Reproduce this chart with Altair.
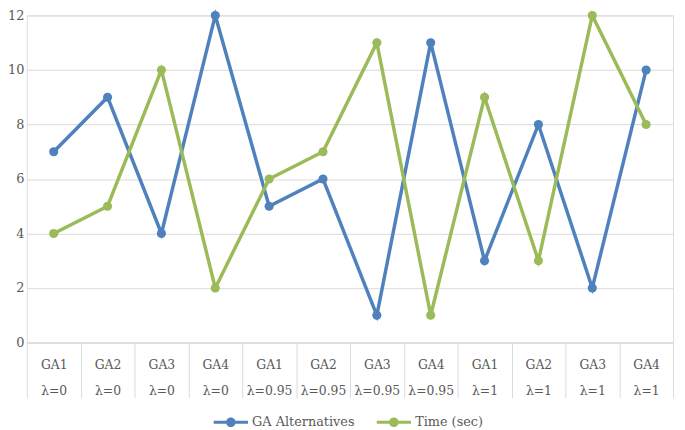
import altair as alt
import pandas as pd

groups = ["GA1", "GA2", "GA3", "GA4"] * 3
lambdas = ["λ=0"] * 4 + ["λ=0.95"] * 4 + ["λ=1"] * 4
ga_alternatives = [7, 9, 4, 12, 5, 6, 1, 11, 3, 8, 2, 10]
time_sec = [4, 5, 10, 2, 6, 7, 11, 1, 9, 3, 12, 8]
series_names = ["GA Alternatives", "Time (sec)"]
series_colors = ["#4F81BD", "#9BBB59"]

cats = [f"{g}|{l}" for g, l in zip(groups, lambdas)]
rows = []
for c, v in zip(cats, ga_alternatives):
    rows.append({"cat": c, "series": series_names[0], "value": v})
for c, v in zip(cats, time_sec):
    rows.append({"cat": c, "series": series_names[1], "value": v})
df = pd.DataFrame(rows)

FONT = "DejaVu Serif"
FS = 13
GRID = "#d9d9d9"
TXT = "#595959"

x = alt.X(
    "cat:N",
    sort=cats,
    bandPosition=0.5,
    scale=alt.Scale(type="band", paddingInner=0, paddingOuter=0),
    axis=alt.Axis(
        title=None,
        labelAngle=0,
        labelExpr="isValid(datum.value) ? split(datum.value, '|') : ''",
        labelBaseline="top",
        labelLineHeight=27,
        labelPadding=-40,
        labelFont=FONT,
        labelFontSize=12.5,
        tickBand="extent",
        tickSize=56,
        tickColor=GRID,
        domainColor=GRID,
        grid=False,
    ),
)
y = alt.Y(
    "value:Q",
    scale=alt.Scale(domain=[0, 12]),
    axis=alt.Axis(
        title=None,
        values=[0, 2, 4, 6, 8, 10, 12],
        ticks=False,
        domain=False,
        gridColor=GRID,
        labelPadding=3,
        labelFont=FONT,
    ),
)
color_scale = alt.Scale(domain=series_names, range=series_colors)

symbol_path = (
    "M-1,-0.09 H1 V0.09 H-1 Z "
    "M-0.28,0 A0.28,0.28 0 1,1 0.28,0 A0.28,0.28 0 1,1 -0.28,0 Z"
)
legend = alt.Legend(
    title=None,
    orient="none",
    direction="horizontal",
    legendX=189,
    legendY=394,
    symbolType=symbol_path,
    symbolSize=1200,
    symbolStrokeWidth=0,
    labelOffset=4,
    columnPadding=22,
    labelFont=FONT,
)
color = alt.Color("series:N", scale=color_scale, legend=legend)

lines = alt.Chart(df).mark_line(strokeWidth=3.5).encode(x=x, y=y, color=color)
points = alt.Chart(df).mark_point(filled=True, size=85, opacity=1).encode(
    x=x, y=y, color=color
)

chart = (
    alt.layer(lines, points)
    .properties(
        width=654,
        height=331,
        autosize=alt.AutoSizeParams(type="none"),
        padding={"left": 19, "top": 5, "right": 4, "bottom": 86},
    )
    .configure_view(stroke=None)
    .configure(background="white", font=FONT)
    .configure_axis(labelFontSize=FS, labelColor=TXT)
    .configure_legend(labelFontSize=FS, labelColor=TXT)
)

chart.save("out.html", embed_options={"renderer": "svg", "actions": False})
